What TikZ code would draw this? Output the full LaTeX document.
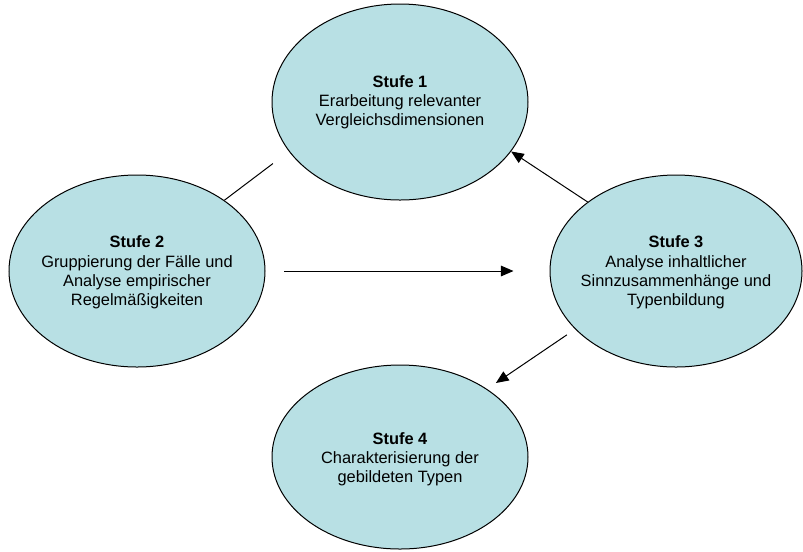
\documentclass[tikz,border=0pt]{standalone}
\usepackage{fontspec}
\setmainfont{Liberation Sans}
\usetikzlibrary{shapes.geometric}
\usetikzlibrary{arrows.meta}
\definecolor{stufeblue}{RGB}{184,224,228}
\tikzset{
    stufe/.style={
        ellipse,
        draw=black,
        line width=0.75pt,
        fill=stufeblue,
        inner sep=0pt,
        minimum width=192pt,
        minimum height=144pt
    },
    stufetext/.style={
        align=center,
        inner sep=0pt,
        font=\fontsize{12.3pt}{14.3pt}\selectfont
    },
    link/.style={
        draw=black,
        line width=0.75pt
    },
    arrowtip/.style={
        -{Triangle[length=9.5pt,width=8pt]}
    }
}
\begin{document}
\begin{tikzpicture}[x=0.75pt,y=-0.75pt]
        \useasboundingbox (0,0) rectangle (803,551);
        \node[stufe,minimum height=147pt] (s1) at (400,102) {};
        \node[stufe] (s2) at (137,271) {};
        \node[stufe,minimum width=189pt] (s3) at (676,271) {};
        \node[stufe,minimum height=138pt] (s4) at (400,457) {};

        \node[stufetext] (s1text) at (s1) {\textbf{Stufe 1}\\Erarbeitung relevanter\\Vergleichsdimensionen};
        \node[stufetext] (s2text) at ([yshift=-1pt]s2.center) {\textbf{Stufe 2}\\Gruppierung der Fälle und\\Analyse empirischer\\Regelmäßigkeiten};
        \node[stufetext] (s3text) at ([yshift=-1pt]s3.center) {\textbf{Stufe 3}\\Analyse inhaltlicher\\Sinnzusammenhänge und\\Typenbildung};
        \node[stufetext] (s4text) at ([yshift=-2pt]s4.center) {\textbf{Stufe 4}\\Charakterisierung der\\gebildeten Typen};

        \draw[link,shorten >=15pt] (s2.39) -- (s1.204);
        \draw[link,arrowtip,shorten <=14pt,shorten >=27pt] (s2.east) -- (s3.west);
        \draw[link,arrowtip] (s3.142) -- (s1.336);
        \draw[link,arrowtip,shorten <=7.5pt,shorten >=8pt] (s3.210) -- (s4.38);
\end{tikzpicture}
\end{document}
